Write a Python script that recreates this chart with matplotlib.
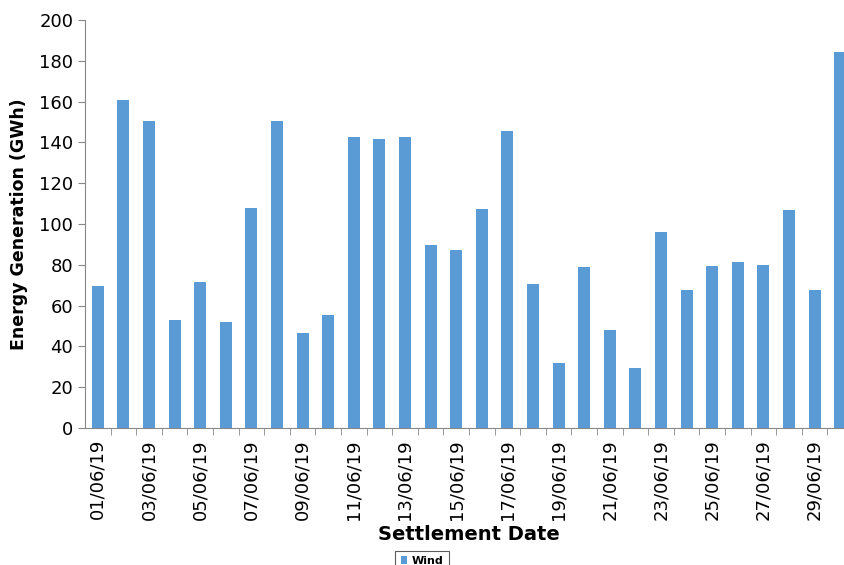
import matplotlib
matplotlib.use("Agg")
import matplotlib.pyplot as plt

dates = [f"{d:02d}/06/19" for d in range(1, 31)]
wind = [69.5, 161, 150.5, 53, 71.5, 52, 108, 150.5, 46.5, 55.5, 142.5, 141.5, 142.5, 89.5, 87.5,
        107.5, 145.5, 70.5, 32, 79, 48, 29.5, 96, 67.5, 79.5, 81.5, 80, 107, 67.5, 184.5]

W, H = 844, 565
fig = plt.figure(figsize=(W/100, H/100), dpi=100)
ax = fig.add_axes([85/W, 1-428/H, 768/W, 408/H])
x = list(range(len(dates)))
ax.bar(x, wind, width=0.47, color="#5b9bd5", label="Wind", zorder=2)
ax.set_xlim(-0.5, 29.5)
ax.set_ylim(0, 200)
ax.set_yticks(range(0, 201, 20))
ax.set_xticks(x[::2])
ax.set_xticklabels(dates[::2], rotation=90, fontsize=13)
ax.tick_params(axis="y", labelsize=13)
ax.set_xticks([i + 0.5 for i in x], minor=True)
ax.tick_params(axis="x", which="major", length=0, pad=8)
ax.tick_params(axis="x", which="minor", length=5, color="#888888")
ax.tick_params(axis="y", length=5, color="#888888")
for s in ["top", "right"]:
    ax.spines[s].set_visible(False)
for s in ["left", "bottom"]:
    ax.spines[s].set_color("#888888")
ax.set_ylabel("Energy Generation (GWh)", fontsize=12.5, fontweight="bold", labelpad=8)
ax.set_xlabel("Settlement Date", fontsize=14, fontweight="bold", labelpad=4)
fig.legend(loc="lower center", bbox_to_anchor=(0.5, -0.012),
           prop={"weight": "bold", "size": 8}, fancybox=False, edgecolor="#333333",
           handlelength=0.6, handletextpad=0.4, borderpad=0.5, borderaxespad=0,
           frameon=True).get_frame().set_linewidth(0.8)
fig.savefig("out.png", dpi=100)
